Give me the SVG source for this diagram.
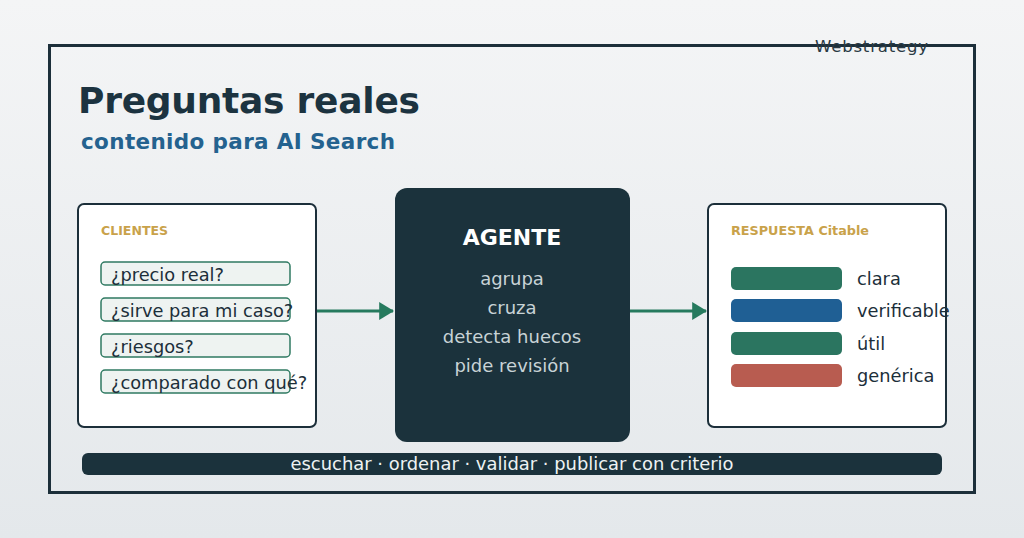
<svg xmlns="http://www.w3.org/2000/svg" width="1024" height="538" viewBox="0 0 1024 538">
<defs>
<linearGradient id="bg" x1="0" y1="0" x2="0" y2="1">
<stop offset="0" stop-color="#f4f5f6"/>
<stop offset="1" stop-color="#e4e8eb"/>
</linearGradient>
<marker id="ah" markerWidth="5" markerHeight="6" refX="4.6" refY="3" orient="auto" markerUnits="strokeWidth">
<path d="M0,0 L5,3 L0,6 Z" fill="#267a5e"/>
</marker>
<style>
text{font-family:"DejaVu Sans","Liberation Sans",sans-serif}
.card{fill:#ffffff;stroke:#1c2f3a;stroke-width:2}
.lbl{font-size:12.5px;font-weight:bold;fill:#c9a24a}
.pill{fill:#eef3f1;stroke:#2f7a62;stroke-width:1.5}
.q{font-size:17.8px;fill:#1c2f3a}
.ag{font-size:18px;fill:#c8d3d6;text-anchor:middle}
.conn{stroke:#267a5e;stroke-width:3;fill:none}
</style>
</defs>
<rect width="1024" height="538" fill="url(#bg)"/>
<rect x="49.5" y="45.5" width="925" height="447" fill="none" stroke="#1c2f3a" stroke-width="3"/>
<text x="815" y="52" font-size="16.5" fill="#2a3a44" textLength="113">Webstrategy</text>
<text x="78" y="113" font-size="36" font-weight="bold" fill="#1c3340" textLength="342">Preguntas reales</text>
<text x="81" y="149" font-size="21.5" font-weight="bold" fill="#24628f" textLength="314">contenido para AI Search</text>

<g id="connectors">
<line class="conn" x1="316" y1="311" x2="393" y2="311" marker-end="url(#ah)"/>
<line class="conn" x1="630" y1="311" x2="706" y2="311" marker-end="url(#ah)"/>
</g>

<g id="clientes">
<rect class="card" x="78" y="204" width="238" height="223" rx="6"/>
<text class="lbl" x="101" y="235" textLength="67" lengthAdjust="spacingAndGlyphs">CLIENTES</text>
<rect class="pill" x="101" y="262" width="189" height="23" rx="4"/>
<text class="q" x="111" y="281">¿precio real?</text>
<rect class="pill" x="101" y="298" width="189" height="23" rx="4"/>
<text class="q" x="111" y="317">¿sirve para mi caso?</text>
<rect class="pill" x="101" y="334" width="189" height="23" rx="4"/>
<text class="q" x="111" y="353">¿riesgos?</text>
<rect class="pill" x="101" y="370" width="189" height="23" rx="4"/>
<text class="q" x="111" y="389">¿comparado con qué?</text>
</g>

<g id="agente">
<rect x="395" y="188" width="235" height="254" rx="12" fill="#1b323c"/>
<text x="512" y="245" font-size="22" font-weight="bold" fill="#ffffff" text-anchor="middle">AGENTE</text>
<text class="ag" x="512" y="285">agrupa</text>
<text class="ag" x="512" y="314">cruza</text>
<text class="ag" x="512" y="343">detecta huecos</text>
<text class="ag" x="512" y="372">pide revisión</text>
</g>

<g id="respuesta">
<rect class="card" x="708" y="204" width="238" height="223" rx="6"/>
<text class="lbl" x="731" y="235" textLength="138" lengthAdjust="spacingAndGlyphs">RESPUESTA Citable</text>
<rect x="731" y="267" width="111" height="23" rx="5" fill="#2b7560"/>
<text class="q" x="857" y="285">clara</text>
<rect x="731" y="299" width="111" height="23" rx="5" fill="#1f5f94"/>
<text class="q" x="857" y="317">verificable</text>
<rect x="731" y="332" width="111" height="23" rx="5" fill="#2b7560"/>
<text class="q" x="857" y="350">útil</text>
<rect x="731" y="364" width="111" height="23" rx="5" fill="#b85c50"/>
<text class="q" x="857" y="382">genérica</text>
</g>

<g id="footer">
<rect x="82" y="453" width="860" height="22" rx="6" fill="#1b323c"/>
<text x="512" y="470" font-size="17" fill="#eef2f3" text-anchor="middle" textLength="443" lengthAdjust="spacingAndGlyphs">escuchar · ordenar · validar · publicar con criterio</text>
</g>
</svg>
